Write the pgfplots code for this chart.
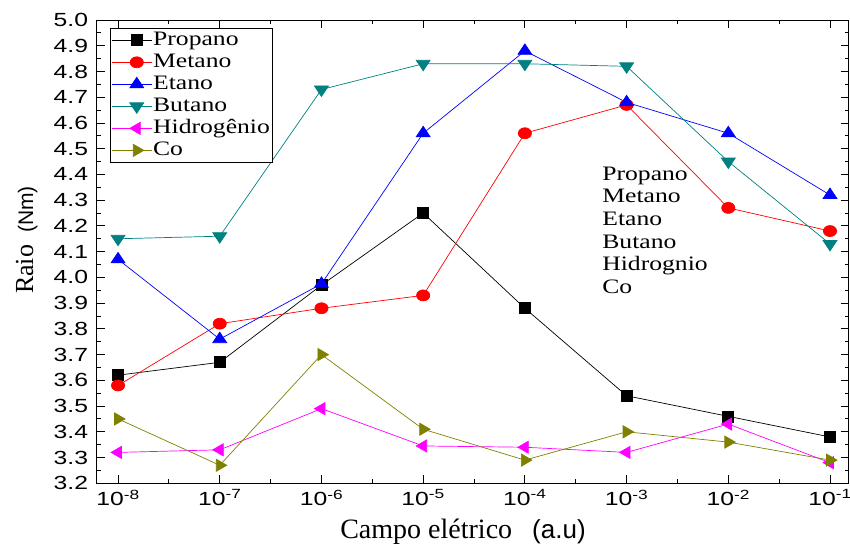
\documentclass[border=0pt]{standalone}
\usepackage{fontspec}
\setmainfont{Liberation Serif}
\setsansfont{Liberation Sans}
\newfontfamily\serifS{Liberation Serif}[FakeStretch=1.25]
\newfontfamily\sansS{Liberation Sans}[FakeStretch=1.3]
\usepackage{pgfplots}
\pgfplotsset{compat=1.18}
\definecolor{tealc}{RGB}{0,128,128}
\definecolor{olivec}{RGB}{128,128,0}
\definecolor{magc}{RGB}{255,0,255}
\begin{document}
\begin{tikzpicture}
\begin{axis}[
  xmode=log, scale only axis, width=752pt, height=463pt,
  xmin=6.145e-9, xmax=0.1537,
  ymin=3.2, ymax=5.0,
  xtick={1e-8,1e-7,1e-6,1e-5,1e-4,1e-3,1e-2,1e-1},
  xticklabels={10\textsuperscript{-8},10\textsuperscript{-7},10\textsuperscript{-6},10\textsuperscript{-5},10\textsuperscript{-4},10\textsuperscript{-3},10\textsuperscript{-2},10\textsuperscript{-1}},
  minor xtick={3.162e-8,3.162e-7,3.162e-6,3.162e-5,3.162e-4,3.162e-3,3.162e-2},
  ytick={3.2,3.3,3.4,3.5,3.6,3.7,3.8,3.9,4.0,4.1,4.2,4.3,4.4,4.5,4.6,4.7,4.8,4.9,5.0},
  minor ytick={3.25,3.35,3.45,3.55,3.65,3.75,3.85,3.95,4.05,4.15,4.25,4.35,4.45,4.55,4.65,4.75,4.85,4.95},
  yticklabel style={xshift=-5pt, /pgf/number format/.cd, fixed, fixed zerofill, precision=1, assume math mode=true},
  tick align=inside,
  major tick length=8pt, minor tick length=4pt,
  tick style={black, line width=0.9pt},
  axis line style={line width=1pt},
  xlabel={{\fontsize{28}{30}\selectfont Campo elétrico}\hspace{20pt}{\sffamily\fontsize{26}{30}\selectfont(a.u)}},
  ylabel={{\fontsize{26}{28}\selectfont Raio}\hspace{12pt}{\sffamily\fontsize{21}{28}\selectfont(Nm)}},
  every axis x label/.style={at={(rel axis cs:0.487,0)}, anchor=base, yshift=-55pt},
  every axis y label/.style={at={(rel axis cs:-0.0844,0.525)}, rotate=90, anchor=base},
  tick label style={font=\sansS\fontsize{19}{21}\selectfont},
  xticklabel style={yshift=-3pt},
  legend style={at={(0.0179,0.983)}, anchor=north west, draw=black, line width=0.8pt,
    font=\serifS\fontsize{20.5}{23}\selectfont, row sep=0pt, inner sep=1pt,
    nodes={inner sep=1pt, text height=15pt, text depth=5pt}},
  legend cell align=left,
  legend image code/.code={\draw[mark repeat=2,mark phase=2] plot coordinates {(0pt,0pt) (25pt,0pt) (40pt,0pt)};},
  every axis plot/.append style={line width=0.7pt},
]
\addplot[black, mark=square*, mark size=5.5pt, mark options={fill=black, solid}] coordinates {
(1e-8,3.62) (1e-7,3.67) (1e-6,3.97) (1e-5,4.25) (1e-4,3.88) (1e-3,3.54) (1e-2,3.46) (1e-1,3.38)};
\addlegendentry{Propano}
\addplot[red, mark=*, mark size=5.5pt, mark options={fill=red, xscale=1.2}] coordinates {
(1e-8,3.58) (1e-7,3.82) (1e-6,3.88) (1e-5,3.93) (1e-4,4.56) (1e-3,4.67) (1e-2,4.27) (1e-1,4.18)};
\addlegendentry{Metano}
\addplot[blue, mark=triangle*, mark size=7pt, mark options={fill=blue, xscale=1.15}] coordinates {
(1e-8,4.07) (1e-7,3.76) (1e-6,3.975) (1e-5,4.56) (1e-4,4.88) (1e-3,4.68) (1e-2,4.56) (1e-1,4.32)};
\addlegendentry{Etano}
\addplot[tealc, mark=triangle*, mark size=7pt, mark options={fill=tealc, rotate=180, xscale=1.15}] coordinates {
(1e-8,4.15) (1e-7,4.16) (1e-6,4.73) (1e-5,4.83) (1e-4,4.83) (1e-3,4.82) (1e-2,4.45) (1e-1,4.13)};
\addlegendentry{Butano}
\addplot[magc, mark=triangle*, mark size=7pt, mark options={fill=magc, rotate=90}] coordinates {
(1e-8,3.32) (1e-7,3.33) (1e-6,3.49) (1e-5,3.345) (1e-4,3.34) (1e-3,3.32) (1e-2,3.43) (1e-1,3.28)};
\addlegendentry{Hidrogênio}
\addplot[olivec, mark=triangle*, mark size=7pt, mark options={fill=olivec, rotate=-90}] coordinates {
(1e-8,3.45) (1e-7,3.27) (1e-6,3.70) (1e-5,3.41) (1e-4,3.29) (1e-3,3.40) (1e-2,3.36) (1e-1,3.29)};
\addlegendentry{Co}
\node[anchor=north west, align=left, inner sep=0pt, font=\serifS\fontsize{20.5}{22.6}\selectfont]
  at (axis cs:5.75e-4,4.43) {Propano\\Metano\\Etano\\Butano\\Hidrognio\\Co};
\coordinate (SW) at (rel axis cs:0,0);
\coordinate (NE) at (rel axis cs:1,1);
\end{axis}
\pgfresetboundingbox
\useasboundingbox ([shift={(-96.5pt,-65pt)}]SW) rectangle ([shift={(1pt,20pt)}]NE);
\end{tikzpicture}
\end{document}
